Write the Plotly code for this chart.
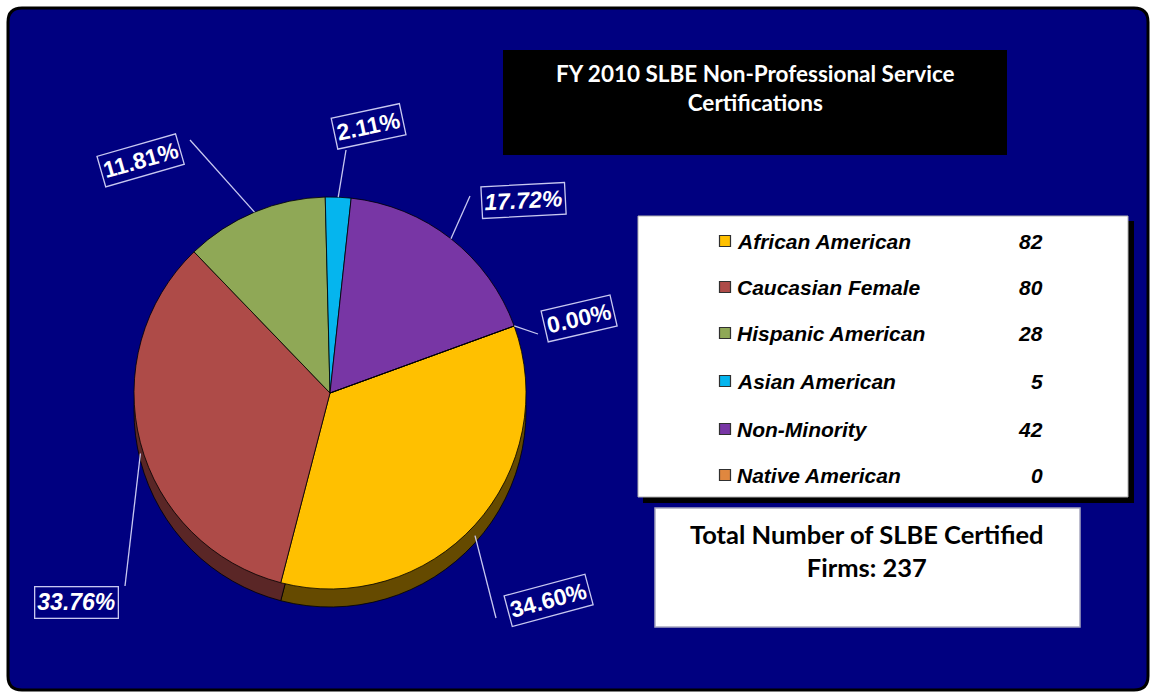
import math
import plotly.graph_objects as go

# ---------------- data ----------------
categories = ["African American", "Caucasian Female", "Hispanic American",
              "Asian American", "Non-Minority", "Native American"]
counts = [82, 80, 28, 5, 42, 0]
colors = ["#FFC000", "#AE4B48", "#8FA856", "#05B5EE", "#7836A5", "#E0873F"]
side_colors = ["#654A00", "#5A2626", "#4A5A2C", "#05607F", "#3D1B55", "#7A4A20"]
title_text = "FY 2010 SLBE Non-Professional Service<br>Certifications"
total_label = "Total Number of SLBE Certified<br>Firms: "

# ---------------- layout constants (pixels) ----------------
W, H = 1151, 692
CX, CY, R = 330, 393, 196          # pie centre / radius
DEPTH = 18                          # pseudo-3D thickness
ROTATION = 70

# label box centres, tilt, leader end and italic flag (per slice)
label_pos = [(548, 600), (76, 602), (140, 160), (368, 126), (523, 200), (579, 318)]
label_tilt = [-15, 0, -16, -12, -3, -13]
leader_end = [(496, 618), (125, 586), (190, 140), (346, 150), (470, 196), (538, 334)]
label_italic = [False, True, False, False, True, False]

legend_rows_y = [241, 287, 333, 381, 429, 475]

total = sum(counts)
pcts = [c / total * 100 for c in counts]

fig = go.Figure()

def dom(cy):
    return dict(x=[(CX - R) / W, (CX + R) / W],
                y=[1 - (cy + R) / H, 1 - (cy - R) / H])

# side (pseudo 3D) pie
fig.add_trace(go.Pie(values=counts, labels=categories, sort=False, direction="clockwise",
                     rotation=ROTATION, textinfo="none", showlegend=False, hoverinfo="skip",
                     marker=dict(colors=side_colors, line=dict(color="#000000", width=0.8)),
                     domain=dom(CY + DEPTH)))
# top pie
fig.add_trace(go.Pie(values=counts, labels=categories, sort=False, direction="clockwise",
                     rotation=ROTATION, textinfo="none", showlegend=False,
                     marker=dict(colors=colors, line=dict(color="#000000", width=0.8)),
                     domain=dom(CY)))

shapes = []
# outer frame
shapes.append(dict(type="path", xref="x", yref="y", layer="below",
                   path="M 22,8 L 1134,8 Q 1148,8 1148,22 L 1148,676 Q 1148,690 1134,690 "
                        "L 22,690 Q 8,690 8,676 L 8,22 Q 8,8 22,8 Z",
                   fillcolor="#000080", line=dict(color="#000000", width=3)))
# title box
shapes.append(dict(type="rect", xref="x", yref="y", x0=503, x1=1007, y0=50, y1=155,
                   fillcolor="#000000", line=dict(width=0), layer="below"))
# legend box shadow + box
shapes.append(dict(type="rect", xref="x", yref="y", x0=643, x1=1134, y0=221, y1=503,
                   fillcolor="#000000", line=dict(width=0), layer="below"))
shapes.append(dict(type="rect", xref="x", yref="y", x0=638, x1=1128, y0=216, y1=497,
                   fillcolor="#FFFFFF", line=dict(color="#B0B0B0", width=1), layer="below"))
# total box
shapes.append(dict(type="rect", xref="x", yref="y", x0=655, x1=1080, y0=508, y1=627,
                   fillcolor="#FFFFFF", line=dict(color="#A8A8C0", width=1.5), layer="below"))

annotations = []
# data labels with leader lines computed from slice mid-angles
cum = 0.0
for i, c in enumerate(counts):
    frac = c / total
    mid = ROTATION + (cum + frac / 2) * 360
    cum += frac
    a = math.radians(mid)
    ex = CX + R * math.sin(a)
    ey = CY - R * math.cos(a)
    if math.cos(a) < 0 and abs(math.sin(a)) < 0.99:
        ey += DEPTH * 0.6
    lx, ly = leader_end[i]
    shapes.append(dict(type="line", xref="x", yref="y", x0=ex, y0=ey, x1=lx, y1=ly,
                       line=dict(color="#C8C8F0", width=1.3)))
    txt = f"{pcts[i]:.2f}%"
    txt = f"<b><i>{txt}</i></b>" if label_italic[i] else f"<b>{txt}</b>"
    px, py = label_pos[i]
    annotations.append(dict(x=px, y=py, xref="x", yref="y", text=txt, showarrow=False,
                            textangle=label_tilt[i],
                            font=dict(family="Liberation Sans, Arial", size=23, color="#FFFFFF"),
                            bordercolor="#C8C8F0", borderwidth=1.3, borderpad=2,
                            bgcolor="#000080"))

# title
annotations.append(dict(x=755, y=88, xref="x", yref="y", text=f"<b>{title_text}</b>",
                        showarrow=False, align="center",
                        font=dict(family="Lato, Open Sans", size=22.5, color="#FFFFFF")))
# total
annotations.append(dict(x=867, y=550, xref="x", yref="y", text=f"<b>{total_label}{total}</b>",
                        showarrow=False, align="center",
                        font=dict(family="Lato, Open Sans", size=25.5, color="#000000")))

# legend entries
for i, cat in enumerate(categories):
    y = legend_rows_y[i]
    annotations.append(dict(x=735, y=y, xref="x", yref="y", xanchor="left", text=f"<b><i>{cat}</i></b>",
                            showarrow=False, font=dict(family="Liberation Sans, Arial", size=21, color="#000000")))
    annotations.append(dict(x=1045, y=y, xref="x", yref="y", xanchor="right", text=f"<b><i>{counts[i]}</i></b>",
                            showarrow=False, font=dict(family="Liberation Sans, Arial", size=21, color="#000000")))

fig.add_trace(go.Scatter(x=[725] * len(categories), y=legend_rows_y, mode="markers",
                         marker=dict(symbol="square", size=11, color=colors,
                                     line=dict(color="#303030", width=1.2)),
                         showlegend=False, hoverinfo="skip"))

fig.update_layout(
    width=W, height=H, margin=dict(l=0, r=0, t=0, b=0),
    paper_bgcolor="#FFFFFF", plot_bgcolor="rgba(0,0,0,0)",
    xaxis=dict(range=[0, W], visible=False, fixedrange=True),
    yaxis=dict(range=[H, 0], visible=False, fixedrange=True),
    shapes=shapes, annotations=annotations, showlegend=False,
)

fig.write_html("out.html", config={"displayModeBar": False},
               post_script="document.body.style.margin='0';document.body.style.overflow='hidden';")
